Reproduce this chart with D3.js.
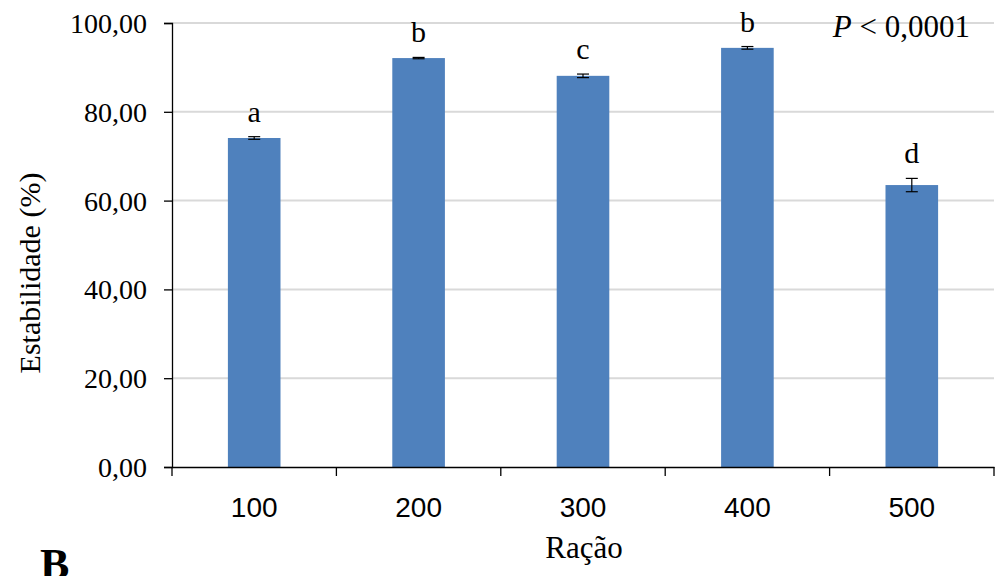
<!DOCTYPE html>
<html>
<head>
<meta charset="utf-8">
<script src="https://cdn.jsdelivr.net/npm/d3@7"></script>
<style>
  body { margin: 0; background: #fff; }
  svg text { fill: #000; }
</style>
</head>
<body>
<svg id="chart" width="997" height="576"></svg>
<script>
// dados
let racoes = ['100', '200', '300', '400', '500']
let estabilidade = [74.1, 92.1, 88.1, 94.4, 63.5]
let erros = [0.3, 0.15, 0.4, 0.3, 1.5]
let letras = ['a', 'b', 'c', 'b', 'd']
let yTicks = [0, 20, 40, 60, 80, 100]

let serif = '"Liberation Serif", "Times New Roman", serif'
let sans = '"Liberation Sans", Arial, sans-serif'

let svg = d3.select('#chart')

let margin = {top: 23, left: 172, right: 3, bottom: 109}
let width = 997 - margin.left - margin.right
let height = 576 - margin.top - margin.bottom

let xScale = d3.scaleBand()
  .domain(racoes)
  .range([0, width])
  .paddingInner(0.68)
  .paddingOuter(0.34)

let yScale = d3.scaleLinear()
  .domain([0, 100])
  .range([height, 0])

let body = svg.append('g')
  .attr('transform', `translate(${margin.left},${margin.top})`)

// grade
body.selectAll('.grid').data(yTicks.filter(d => d > 0))
  .enter().append('line')
  .attr('x1', 0)
  .attr('x2', width)
  .attr('y1', d => yScale(d))
  .attr('y2', d => yScale(d))
  .attr('stroke', '#d9d9d9')
  .attr('stroke-width', 2)

// barras
body.selectAll('.bar').data(estabilidade)
  .enter().append('rect')
  .attr('x', (d, i) => xScale(racoes[i]))
  .attr('y', d => yScale(d))
  .attr('width', xScale.bandwidth())
  .attr('height', d => height - yScale(d))
  .attr('fill', '#4f81bd')

// barras de erro
let eb = body.selectAll('.err').data(estabilidade)
  .enter().append('g')
  .attr('transform', (d, i) => `translate(${xScale(racoes[i]) + xScale.bandwidth() / 2},0)`)

eb.append('line')
  .attr('y1', (d, i) => yScale(d + erros[i]))
  .attr('y2', (d, i) => yScale(d - erros[i]))
  .attr('stroke', '#000').attr('stroke-width', 1.2)
eb.append('line')
  .attr('x1', -6).attr('x2', 6)
  .attr('y1', (d, i) => yScale(d + erros[i]))
  .attr('y2', (d, i) => yScale(d + erros[i]))
  .attr('stroke', '#000').attr('stroke-width', 1.2)
eb.append('line')
  .attr('x1', -6).attr('x2', 6)
  .attr('y1', (d, i) => yScale(d - erros[i]))
  .attr('y2', (d, i) => yScale(d - erros[i]))
  .attr('stroke', '#000').attr('stroke-width', 1.2)

// letras
eb.append('text')
  .attr('y', (d, i) => yScale(d + erros[i]) - 15)
  .attr('text-anchor', 'middle')
  .style('font-family', serif)
  .style('font-size', '30px')
  .text((d, i) => letras[i])

// eixos
let axisY = d3.axisLeft(yScale)
  .tickValues(yTicks)
  .tickSize(8)
  .tickPadding(17)
  .tickFormat(d => d3.format('.2f')(d).replace('.', ','))

let gY = body.append('g').call(axisY)
gY.select('.domain').attr('stroke-width', 1.3)
gY.selectAll('.tick line').attr('stroke-width', 1.3)
gY.selectAll('text')
  .style('font-family', serif)
  .style('font-size', '28px')
  .attr('dy', '0.34em')

let axisX = d3.axisBottom(xScale).tickSize(0).tickPadding(30)
let gX = body.append('g')
  .attr('transform', `translate(0,${height})`)
  .call(axisX)
gX.select('.domain').attr('stroke-width', 1.3)
gX.selectAll('text')
  .style('font-family', sans)
  .style('font-size', '28px')

// marcas entre categorias
let divisas = d3.range(racoes.length + 1)
gX.selectAll('.div').data(divisas)
  .enter().append('line')
  .attr('x1', d => d * width / racoes.length)
  .attr('x2', d => d * width / racoes.length)
  .attr('y1', 0).attr('y2', 9)
  .attr('stroke', '#000').attr('stroke-width', 1.3)

// títulos
svg.append('text')
  .attr('x', 584)
  .attr('y', 558)
  .attr('text-anchor', 'middle')
  .style('font-family', serif)
  .style('font-size', '31px')
  .text('Ração')

svg.append('text')
  .attr('transform', `translate(40,273) rotate(-90)`)
  .attr('text-anchor', 'middle')
  .style('font-family', serif)
  .style('font-size', '30px')
  .text('Estabilidade (%)')

let pTxt = svg.append('text')
  .attr('x', 970)
  .attr('y', 37)
  .attr('text-anchor', 'end')
  .style('font-family', serif)
  .style('font-size', '31px')
pTxt.append('tspan').style('font-style', 'italic').text('P')
pTxt.append('tspan').text(' < 0,0001')

// letra do painel, cortada na borda como no original
svg.append('text')
  .attr('x', 40)
  .attr('y', 579)
  .style('font-family', serif)
  .style('font-weight', 'bold')
  .style('font-size', '44px')
  .text('B')
</script>
</body>
</html>
